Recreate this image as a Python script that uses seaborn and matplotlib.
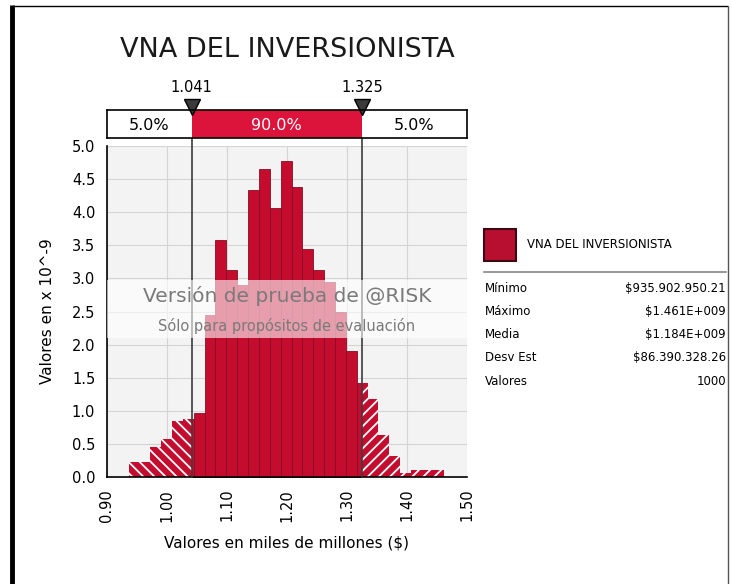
import numpy as np
import pandas as pd
import matplotlib.pyplot as plt
from matplotlib.patches import Rectangle
from matplotlib.lines import Line2D
import seaborn as sns

# histogram: 29 bins from min to max, heights in x 10^-9
v_min, v_max = 0.9359, 1.4610
dens = [0.22, 0.22, 0.46, 0.57, 0.85, 0.87, 0.96, 2.45, 3.58, 3.12, 2.90,
        4.34, 4.65, 4.06, 4.77, 4.38, 3.44, 3.12, 2.95, 2.50, 1.90, 1.42,
        1.18, 0.64, 0.31, 0.06, 0.11, 0.11, 0.11]
p_low, p_high = 1.041, 1.325
pct_labels = ['5.0%', '90.0%', '5.0%']
xticks = [0.90, 1.00, 1.10, 1.20, 1.30, 1.40, 1.50]
yticks = [0.0, 0.5, 1.0, 1.5, 2.0, 2.5, 3.0, 3.5, 4.0, 4.5, 5.0]
stat_names = ['Mínimo', 'Máximo', 'Media', 'Desv Est', 'Valores']
stat_values = ['$935.902.950.21', '$1.461E+009', '$1.184E+009', '$86.390.328.26', '1000']
title = 'VNA DEL INVERSIONISTA'

edges = np.linspace(v_min, v_max, len(dens) + 1)
df = pd.DataFrame({'valor': (edges[:-1] + edges[1:]) / 2, 'dens': dens})

sns.set_style('white')
plt.rcParams['font.family'] = ['DejaVu Sans']
plt.rcParams['hatch.linewidth'] = 1.3
for k in ['text.color', 'axes.labelcolor', 'xtick.color', 'ytick.color']:
    plt.rcParams[k] = 'black'

W, H = 732, 584
def fx(x): return x / W
def fy(y): return 1 - y / H

RED = '#c40d2e'
fig = plt.figure(figsize=(7.32, 5.84), dpi=100)
ax = fig.add_axes([fx(107), fy(477), 360 / W, 331 / H])
box = fig.add_axes([fx(107), fy(138), 360 / W, 28 / H])


def hist(lo, hi, **kw):
    n0 = len(ax.patches)
    sns.histplot(data=df, x='valor', weights='dens', bins=list(edges),
                 stat='count', ax=ax, alpha=1, **kw)
    clip = Rectangle((lo, -1), hi - lo, 20, transform=ax.transData)
    for p in ax.patches[n0:]:
        p.set_clip_path(clip)


hist(p_low, p_high, color=RED, edgecolor='#8a0b24', linewidth=0.6)
hist(0.5, p_low, color=RED, edgecolor='white', linewidth=0, hatch='\\\\\\')
hist(p_high, 2.0, color=RED, edgecolor='white', linewidth=0, hatch='///')

ax.set_xlim(0.9, 1.5)
ax.set_ylim(0, 5.0)
ax.set_facecolor('#f3f3f3')
ax.grid(True, color='#d4d4d4', lw=0.8)
ax.set_axisbelow(True)
for s in ['top', 'right']:
    ax.spines[s].set_visible(False)
for s in ['left', 'bottom']:
    ax.spines[s].set_color('black')
    ax.spines[s].set_linewidth(1.2)
ax.set_xticks(xticks)
ax.set_xticklabels(['%.2f' % t for t in xticks], rotation=90, fontsize=10.5)
ax.set_yticks(yticks)
ax.set_yticklabels(['%.1f' % t for t in yticks], fontsize=10.5)
ax.tick_params(direction='out', length=5, width=1, color='black')
ax.set_ylabel('Valores en x 10^-9', fontsize=11, labelpad=12)
ax.set_xlabel('Valores en miles de millones ($)', fontsize=11, labelpad=10)

for p in [p_low, p_high]:
    ax.axvline(p, 0, 1.109, color='#3c3c3c', lw=1.2, clip_on=False, zorder=4)

# watermark
ax.axhspan(2.10, 2.98, color='white', alpha=0.6, lw=0, zorder=5)
ax.text(1.2, 2.73, 'Versión de prueba de @RISK', ha='center', va='center',
        fontsize=14.5, color='#7a7a7a', zorder=6)
ax.text(1.2, 2.28, 'Sólo para propósitos de evaluación', ha='center', va='center',
        fontsize=10.5, color='#7a7a7a', zorder=6)

# delimiter bar
box.set_xlim(0.9, 1.5)
box.set_ylim(0, 1)
box.axvspan(p_low, p_high, color='#dc143c', lw=0)
box.set_xticks([])
box.set_yticks([])
for s in box.spines.values():
    s.set_color('black')
    s.set_linewidth(1.2)
mids = [(0.9 + p_low) / 2, (p_low + p_high) / 2, (p_high + 1.5) / 2]
for m, lab, c in zip(mids, pct_labels, ['black', 'white', 'black']):
    box.text(m, 0.45, lab, ha='center', va='center', fontsize=11.5, color=c)
box.plot([p_low, p_high], [1.1, 1.1], 'v', ms=11, color='#3a3a3a',
         mec='black', clip_on=False)
for p in [p_low, p_high]:
    box.text(p, 1.8, '%.3f' % p, ha='center', va='center', fontsize=10.5)

fig.text(fx(287), fy(50), title, ha='center', va='center', fontsize=19.5,
         color='#1a1a1a')

# legend and statistics
fig.add_artist(Rectangle((fx(484), fy(261)), 32 / W, 32 / H, transform=fig.transFigure,
                         facecolor='#b80f30', edgecolor='#3a0a12', lw=1.5))
fig.text(fx(527), fy(244), title, ha='left', va='center', fontsize=8.5)
fig.add_artist(Line2D([fx(484), fx(726)], [fy(271.5), fy(271.5)],
                      color='#9a9a9a', lw=1.5, transform=fig.transFigure))
for i, (n, v) in enumerate(zip(stat_names, stat_values)):
    y = fy(288 + i * 23.3)
    fig.text(fx(485), y, n, ha='left', va='center', fontsize=8.5)
    fig.text(fx(726), y, v, ha='right', va='center', fontsize=8.5)

# outer frame
fig.add_artist(Line2D([fx(12), fx(12)], [fy(5), 0], color='black', lw=3.5,
                      solid_capstyle='butt', transform=fig.transFigure))
fig.add_artist(Line2D([fx(12), fx(728)], [fy(6), fy(6)], color='black', lw=1,
                      solid_capstyle='butt', transform=fig.transFigure))
fig.add_artist(Line2D([fx(728), fx(728)], [fy(6), 0], color='#555555', lw=1,
                      solid_capstyle='butt', transform=fig.transFigure))

fig.savefig('out.png', dpi=100)
